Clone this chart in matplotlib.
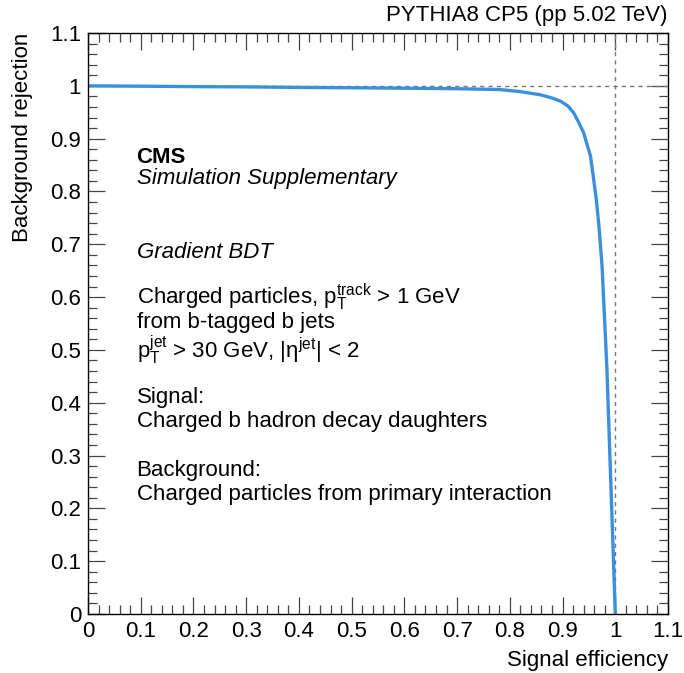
import numpy as np
import matplotlib
matplotlib.use("Agg")
import matplotlib.pyplot as plt
from matplotlib.ticker import MultipleLocator

plt.rcParams['font.family'] = ['Liberation Sans', 'DejaVu Sans']
plt.rcParams['mathtext.fontset'] = 'custom'
plt.rcParams['mathtext.rm'] = 'Liberation Sans'
plt.rcParams['mathtext.it'] = 'Liberation Sans'
plt.rcParams['mathtext.bf'] = 'Liberation Sans:bold'

# ROC curve of the gradient BDT
sig_eff = [0.0, 0.1, 0.2, 0.3, 0.4, 0.5, 0.6, 0.7, 0.78, 0.82, 0.858, 0.88,
           0.896, 0.91, 0.921, 0.93, 0.94, 0.953, 0.959, 0.964, 0.969, 0.975,
           0.984, 0.9905, 0.997, 1.0]
bkg_rej = [1.0, 0.9993, 0.9985, 0.998, 0.997, 0.9963, 0.9955, 0.9945, 0.993,
           0.989, 0.983, 0.977, 0.971, 0.962, 0.949, 0.932, 0.911, 0.867,
           0.823, 0.785, 0.735, 0.658, 0.468, 0.279, 0.090, 0.0]

fig = plt.figure(figsize=(6.84, 6.73), dpi=100)
ax = fig.add_axes([88/684, 1 - 614/673, 580/684, 581/673])

# reference lines at perfect efficiency / rejection
ax.plot([0, 1.1], [1, 1], ls=(0, (3, 3)), color='#777777', lw=1.0)
ax.plot([1, 1], [0, 1.1], ls=(0, (3, 3)), color='#777777', lw=1.0)
ax.plot(sig_eff, bkg_rej, color='#3c8fdd', lw=2.4, solid_joinstyle='round')

ax.set_xlim(0, 1.1)
ax.set_ylim(0, 1.1)
ax.xaxis.set_major_locator(MultipleLocator(0.1))
ax.xaxis.set_minor_locator(MultipleLocator(0.02))
ax.yaxis.set_major_locator(MultipleLocator(0.1))
ax.yaxis.set_minor_locator(MultipleLocator(0.02))

def fmt(v, pos):
    return '%g' % round(v, 2)

ax.xaxis.set_major_formatter(plt.FuncFormatter(fmt))
ax.yaxis.set_major_formatter(plt.FuncFormatter(fmt))

ax.tick_params(which='both', direction='in', top=True, right=True,
               labelsize=16, width=0.9, color='#444444')
ax.tick_params(which='major', length=12, pad=5)
ax.tick_params(which='minor', length=6.5)
for s in ax.spines.values():
    s.set_linewidth(1.0)

ax.set_xlabel('Signal efficiency', fontsize=16, loc='right', labelpad=6)
ax.set_ylabel('Background rejection', fontsize=16, loc='top', labelpad=12)

ax.text(1.0, 1.012, 'PYTHIA8 CP5 (pp 5.02 TeV)', transform=ax.transAxes,
        ha='right', va='bottom', fontsize=16)

tx = 0.092
fs = 16
ax.text(tx, 0.865, 'CMS', fontsize=fs, fontweight='bold', va='center')
ax.text(tx, 0.825, 'Simulation Supplementary', fontsize=fs, style='italic', va='center')
ax.text(tx, 0.685, 'Gradient BDT', fontsize=fs, style='italic', va='center')
ax.text(tx, 0.600, r'Charged particles, $\mathrm{p}_{\mathrm{T}}^{\mathrm{track}}$ > 1 GeV',
        fontsize=fs, va='center')
ax.text(tx, 0.551, 'from b-tagged b jets', fontsize=fs, va='center')
ax.text(tx, 0.500, r'$\mathrm{p}_{\mathrm{T}}^{\mathrm{jet}}$ > 30 GeV, |$\mathrm{\eta}^{\mathrm{jet}}$| < 2',
        fontsize=fs, va='center')
ax.text(tx, 0.410, 'Signal:', fontsize=fs, va='center')
ax.text(tx, 0.365, 'Charged b hadron decay daughters', fontsize=fs, va='center')
ax.text(tx, 0.272, 'Background:', fontsize=fs, va='center')
ax.text(tx, 0.227, 'Charged particles from primary interaction', fontsize=fs, va='center')

fig.savefig('out.png', dpi=100)
